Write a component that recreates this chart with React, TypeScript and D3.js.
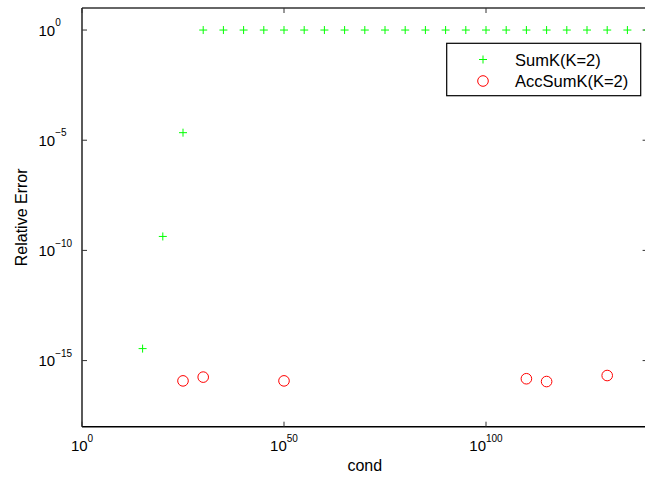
import React from "react";
import * as d3 from "d3";

// cond = 10^exponent
const sumKCondExp = [15, 20, 25, 30, 35, 40, 45, 50, 55, 60, 65, 70, 75, 80, 85, 90, 95, 100, 105, 110, 115, 120, 125, 130, 135, 140];
const sumKError = [3.5e-15, 4.3e-10, 2.2e-5, 1, 1, 1, 1, 1, 1, 1, 1, 1, 1, 1, 1, 1, 1, 1, 1, 1, 1, 1, 1, 1, 1, 1];
const accCondExp = [25, 30, 50, 110, 115, 130];
const accError = [1.2e-16, 1.78e-16, 1.2e-16, 1.5e-16, 1.12e-16, 2.1e-16];
const xTickExp = [0, 50, 100];
const yTickExp = [0, -5, -10, -15];
const seriesNames = ["SumK(K=2)", "AccSumK(K=2)"];

const W = 645;
const H = 477;
const left = 82;
const right = 647.6;
const top = 8;
const bottom = 426.7;

const x = d3.scaleLog().domain([1, 1e140]).range([left, right]);
const y = d3.scaleLog().domain([1e-18, 10]).range([bottom, top]);

const font = "'Liberation Sans', Arial, Helvetica, sans-serif";
const GREEN = "#00ff00";
const RED = "#ff0000";

function expLabel(e: number) {
  return e < 0 ? "\u2212" + Math.abs(e) : String(e);
}

function Plus({ cx, cy, s = 4 }: { cx: number; cy: number; s?: number }) {
  return (
    <path
      d={`M${cx - s},${cy}H${cx + s}M${cx},${cy - s}V${cy + s}`}
      stroke={GREEN}
      strokeWidth={1}
      fill="none"
    />
  );
}

export default function App() {
  return (
    <svg
      width={W}
      height={H}
      style={{ position: "absolute", left: 0, top: 0, background: "#fff" }}
      fontFamily={font}
    >
      <rect x={0} y={0} width={W} height={H} fill="#fff" />
      {/* axes box */}
      <line x1={left} x2={right} y1={top} y2={top} stroke="#333" strokeWidth={1.5} />
      <line x1={left} x2={right} y1={bottom} y2={bottom} stroke="#000" strokeWidth={1.6} />
      <line x1={left} x2={left} y1={top} y2={bottom} stroke="#000" strokeWidth={1.3} />
      <line x1={right} x2={right} y1={top} y2={bottom} stroke="#000" strokeWidth={1.3} />

      {/* x ticks */}
      {xTickExp.map((e) => {
        const px = x(Math.pow(10, e));
        return (
          <g key={"xt" + e}>
            <line x1={px} x2={px} y1={bottom} y2={bottom - 5} stroke="#333" strokeWidth={1} />
            <line x1={px} x2={px} y1={top} y2={top + 5} stroke="#333" strokeWidth={1} />
            <text x={px} y={451} textAnchor="middle" fontSize={15} fill="#000">
              <tspan>10</tspan>
              <tspan dy={-9.5} fontSize={10}>{expLabel(e)}</tspan>
            </text>
          </g>
        );
      })}

      {/* y ticks */}
      {yTickExp.map((e) => {
        const py = y(Math.pow(10, e));
        return (
          <g key={"yt" + e}>
            <line x1={left} x2={left + 5} y1={py} y2={py} stroke="#333" strokeWidth={1} />
            <line x1={right} x2={right - 5} y1={py} y2={py} stroke="#333" strokeWidth={1} />
            <text x={38.5} y={py + 5.7} textAnchor="start" fontSize={15} fill="#000">
              <tspan>10</tspan>
              <tspan dy={-9.5} fontSize={10}>{expLabel(e)}</tspan>
            </text>
          </g>
        );
      })}

      {/* axis labels */}
      <text x={(left + right) / 2} y={470.7} textAnchor="middle" fontSize={16} fill="#000">
        cond
      </text>
      <text
        transform={`translate(26.5, ${(top + bottom) / 2}) rotate(-90)`}
        textAnchor="middle"
        fontSize={16}
        fill="#000"
      >
        Relative Error
      </text>

      {/* SumK */}
      {sumKCondExp.map((e, i) => (
        <Plus key={"s" + i} cx={x(Math.pow(10, e))} cy={y(sumKError[i])} />
      ))}

      {/* AccSumK */}
      {accCondExp.map((e, i) => (
        <circle
          key={"a" + i}
          cx={x(Math.pow(10, e))}
          cy={y(accError[i])}
          r={5.3}
          fill="none"
          stroke={RED}
          strokeWidth={1}
        />
      ))}

      {/* legend */}
      <g>
        <rect x={446.7} y={43.3} width={194} height={52.4} fill="#fff" stroke="#000" strokeWidth={1.2} />
        <Plus cx={483} cy={59.5} />
        <circle cx={483} cy={81} r={5.3} fill="none" stroke={RED} strokeWidth={1} />
        <text x={515} y={65.5} fontSize={16.5} fill="#000">{seriesNames[0]}</text>
        <text x={515} y={87} fontSize={16.5} fill="#000">{seriesNames[1]}</text>
      </g>
    </svg>
  );
}
